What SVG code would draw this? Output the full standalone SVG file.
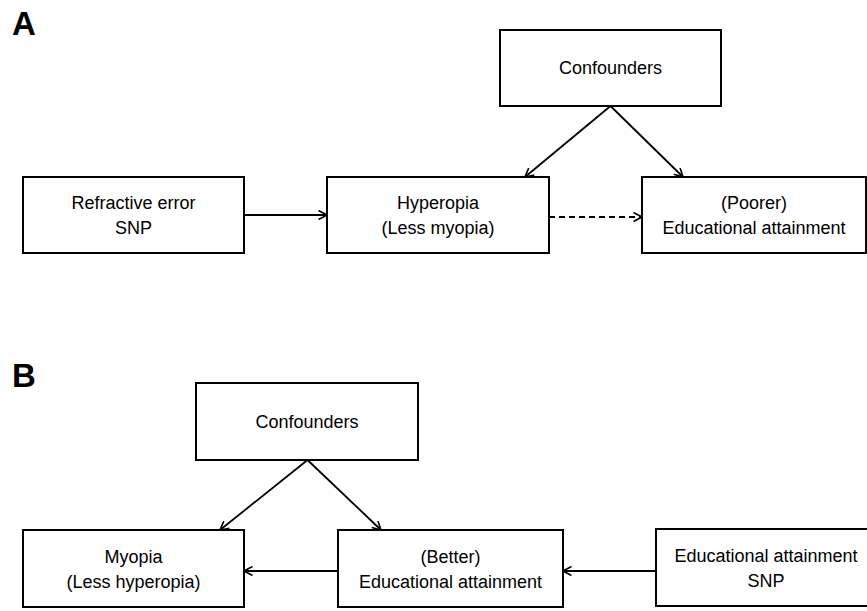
<svg xmlns="http://www.w3.org/2000/svg" width="867" height="611" viewBox="0 0 867 611">
<style>
.box{fill:#fff;stroke:#000;stroke-width:2}
.t{font-family:"Liberation Sans",Arial,sans-serif;font-size:18px;fill:#000;text-anchor:middle}
.lbl{font-family:"Liberation Sans",Arial,sans-serif;font-size:33px;font-weight:bold;fill:#000}
.c{stroke:#000;stroke-width:1.8;fill:none;marker-end:url(#ah)}
.d{stroke-dasharray:6 4}
</style>
<defs>
<marker id="ah" viewBox="0 0 10 10" refX="9.5" refY="5" markerWidth="10" markerHeight="10" markerUnits="userSpaceOnUse" orient="auto">
<path d="M1,0.5 L9.5,5 L1,9.5" fill="none" stroke="#000" stroke-width="1.6"/>
</marker>
</defs>
<rect width="867" height="611" fill="#fff"/>
<text class="lbl" x="12" y="35">A</text>
<text class="lbl" x="12" y="387">B</text>
<g id="connectors">
<line class="c" x1="244" y1="215" x2="327" y2="215"/>
<line class="c d" x1="549" y1="217" x2="642" y2="217"/>
<line class="c" x1="610.5" y1="106" x2="525" y2="177"/>
<line class="c" x1="610.5" y1="106" x2="683" y2="177"/>
<line class="c" x1="338" y1="571" x2="244" y2="571"/>
<line class="c" x1="656" y1="571" x2="563" y2="571"/>
<line class="c" x1="307.5" y1="460" x2="220" y2="530"/>
<line class="c" x1="307.5" y1="460" x2="381" y2="530"/>
</g>
<g id="a-confounders">
<rect class="box" x="500" y="30" width="221" height="76"/>
<text class="t" x="610.5" y="74">Confounders</text>
</g>
<g id="a-snp">
<rect class="box" x="23" y="177" width="221" height="76"/>
<text class="t" x="133.5" y="209">Refractive error</text>
<text class="t" x="133.5" y="234">SNP</text>
</g>
<g id="a-hyperopia">
<rect class="box" x="327" y="177" width="222" height="76"/>
<text class="t" x="438" y="209">Hyperopia</text>
<text class="t" x="438" y="234">(Less myopia)</text>
</g>
<g id="a-education">
<rect class="box" x="642" y="177" width="224" height="76"/>
<text class="t" x="754" y="209">(Poorer)</text>
<text class="t" x="754" y="234">Educational attainment</text>
</g>
<g id="b-confounders">
<rect class="box" x="196" y="383" width="222" height="77"/>
<text class="t" x="307" y="428">Confounders</text>
</g>
<g id="b-myopia">
<rect class="box" x="23" y="530" width="221" height="77"/>
<text class="t" x="133.5" y="563">Myopia</text>
<text class="t" x="133.5" y="588">(Less hyperopia)</text>
</g>
<g id="b-education">
<rect class="box" x="338" y="530" width="225" height="77"/>
<text class="t" x="450.5" y="563">(Better)</text>
<text class="t" x="450.5" y="588">Educational attainment</text>
</g>
<g id="b-snp">
<rect class="box" x="656" y="529" width="212" height="77"/>
<text class="t" x="766" y="562">Educational attainment</text>
<text class="t" x="766" y="587">SNP</text>
</g>
</svg>
